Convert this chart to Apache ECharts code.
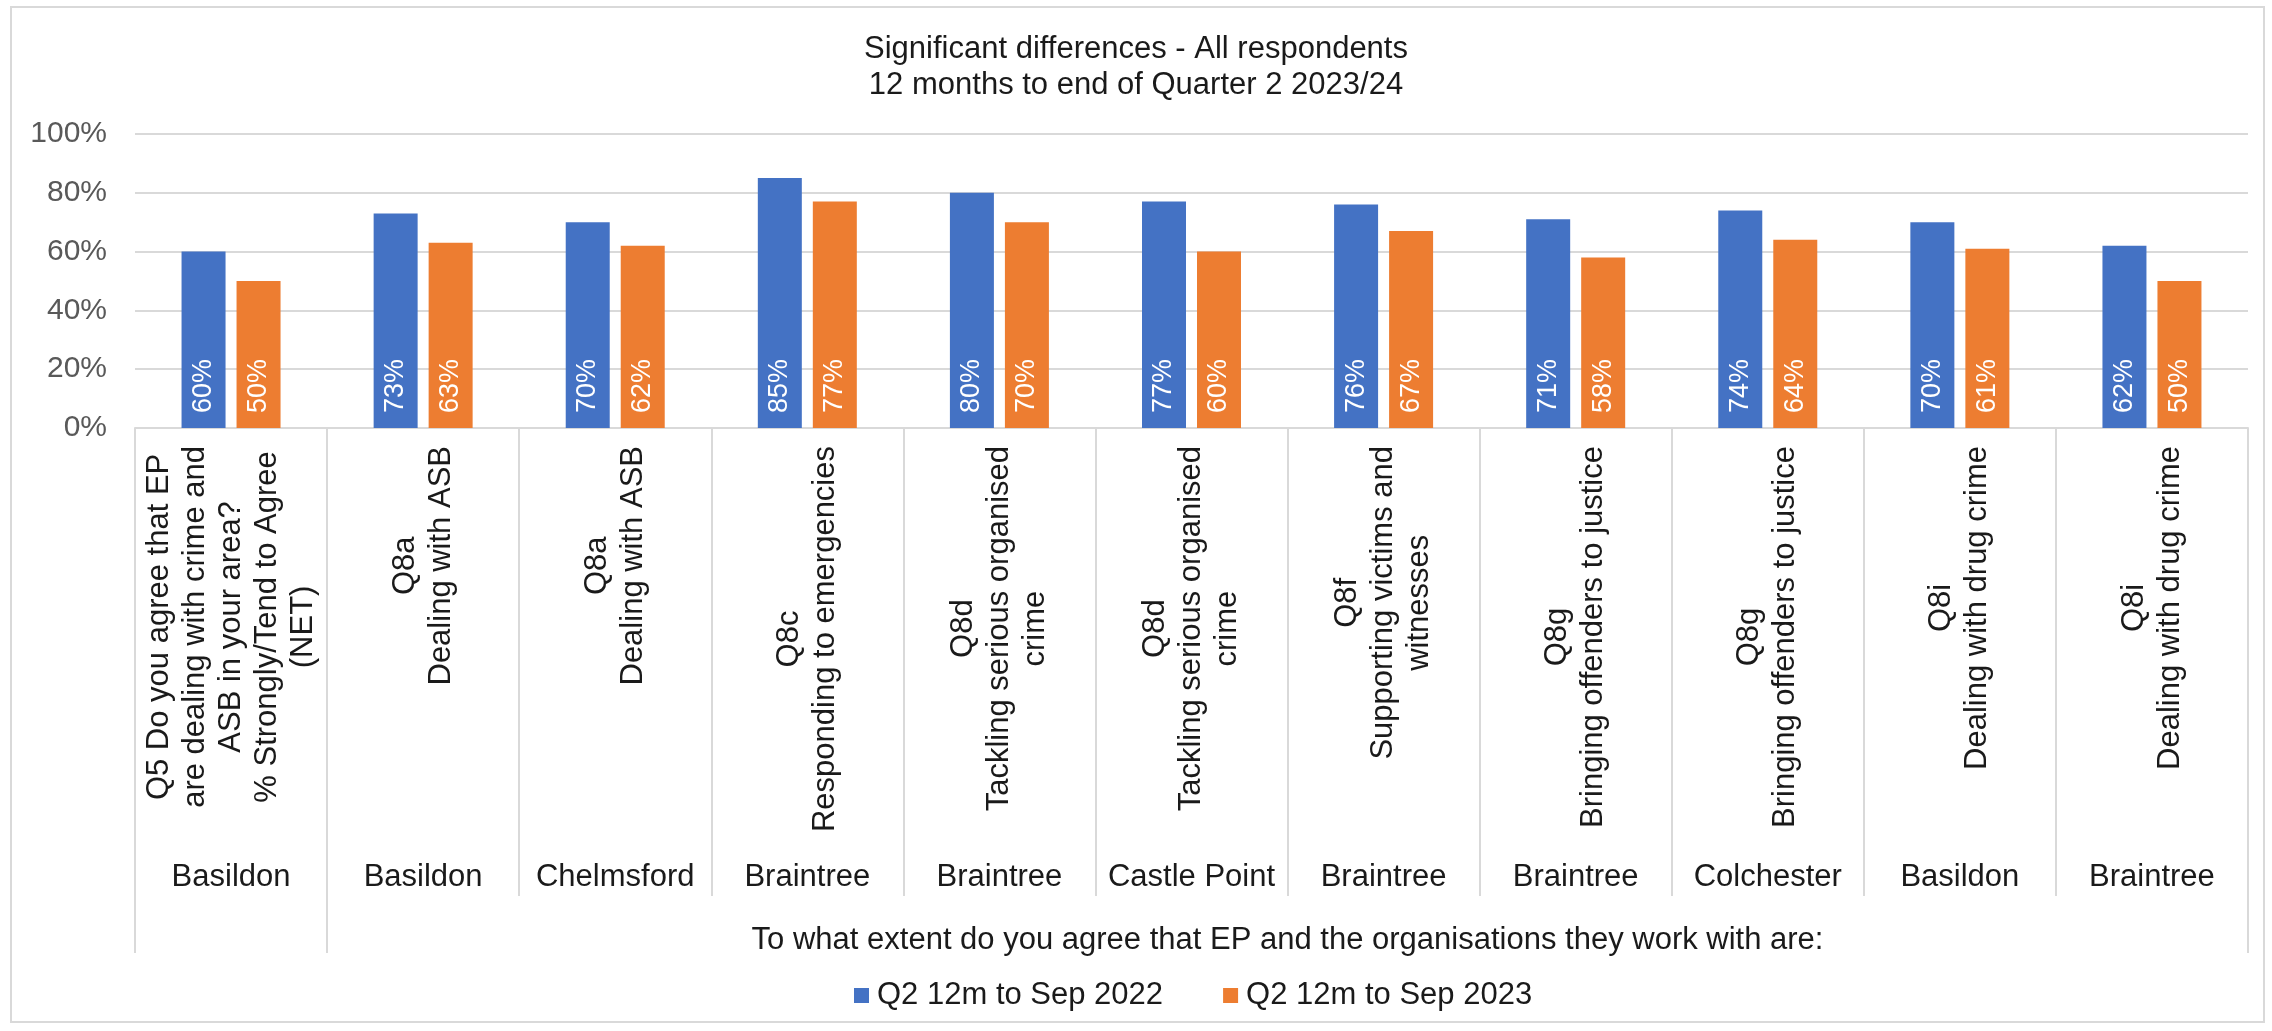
<!DOCTYPE html>
<html>
<head>
<meta charset="utf-8">
<title>Significant differences - All respondents</title>
<script src="https://cdn.jsdelivr.net/npm/echarts@6/dist/echarts.min.js"></script>
<style>
  html, body { margin: 0; padding: 0; background: #ffffff; }
  #chart { width: 2272px; height: 1031px; }
</style>
</head>
<body>
<div id="chart"></div>
<script>
// Question text per category (one entry per line of the rotated label)
const questionLabels = [
  ['Q5 Do you agree that EP', 'are dealing with crime and', 'ASB in your area?', '% Strongly/Tend to Agree', '(NET)'],
  ['Q8a', 'Dealing with ASB'],
  ['Q8a', 'Dealing with ASB'],
  ['Q8c', 'Responding to emergencies'],
  ['Q8d', 'Tackling serious organised', 'crime'],
  ['Q8d', 'Tackling serious organised', 'crime'],
  ['Q8f', 'Supporting victims and', 'witnesses'],
  ['Q8g', 'Bringing offenders to justice'],
  ['Q8g', 'Bringing offenders to justice'],
  ['Q8i', 'Dealing with drug crime'],
  ['Q8i', 'Dealing with drug crime']
];

// District for each category
const districts = [
  'Basildon', 'Basildon', 'Chelmsford', 'Braintree', 'Braintree', 'Castle Point',
  'Braintree', 'Braintree', 'Colchester', 'Basildon', 'Braintree'
];

// Outer grouping of the categories
const groupNames = ['', 'To what extent do you agree that EP and the organisations they work with are:'];
const groupSizes = [1, 10];

// Series
const seriesNames = ['Q2 12m to Sep 2022', 'Q2 12m to Sep 2023'];
const values2022 = [60, 73, 70, 85, 80, 77, 76, 71, 74, 70, 62];
const values2023 = [50, 63, 62, 77, 70, 60, 67, 58, 64, 61, 50];

// Value axis
const yMin = 0;
const yMax = 100;
const yStep = 20;

const FONT = '"Liberation Sans", Arial, sans-serif';
const GRID_COLOR = '#d9d9d9';
const colors = ['#4472C4', '#ED7D31'];

// Bar geometry (pixels): width of each bar and gap between the pair
const BAR_W = 44;
const BAR_GAP = 11;
const LABEL_SIZE = 27;
const LABEL_PAD = 15;

// Group boundaries and group centres in category units
const groupEdges = [0];
groupSizes.forEach(n => groupEdges.push(groupEdges[groupEdges.length - 1] + n));
const groupCentres = groupSizes.map((n, i) => groupEdges[i] + n / 2);
const labelledGroups = groupCentres.filter((c, i) => groupNames[i] !== '');
const nCats = questionLabels.length;

const chart = echarts.init(document.getElementById('chart'), null, { renderer: 'canvas' });

function barSeries(name, data, color) {
  return {
    name: name,
    type: 'bar',
    xAxisIndex: 0,
    yAxisIndex: 0,
    data: data,
    barWidth: BAR_W,
    barGap: (BAR_GAP / BAR_W * 100) + '%',
    itemStyle: { color: color },
    label: { show: false }
  };
}

// Vertical white value labels sitting at the foot of each bar
function valueLabels(data, side) {
  const dx = side * (BAR_W + BAR_GAP) / 2;
  return {
    type: 'custom',
    coordinateSystem: 'cartesian2d',
    xAxisIndex: 0,
    yAxisIndex: 0,
    silent: true,
    z: 5,
    data: data.map((v, i) => [i, v]),
    renderItem: (params, api) => {
      const base = api.coord([api.value(0), 0]);
      return {
        type: 'text',
        x: base[0] + dx,
        y: base[1] - LABEL_PAD,
        rotation: Math.PI / 2,
        style: {
          text: api.value(1) + '%',
          fill: '#ffffff',
          fontSize: LABEL_SIZE,
          fontFamily: FONT,
          align: 'left',
          verticalAlign: 'middle'
        }
      };
    }
  };
}

const option = {
  backgroundColor: '#ffffff',
  animation: false,
  textStyle: { fontFamily: FONT },
  title: {
    text: 'Significant differences - All respondents\n12 months to end of Quarter 2 2023/24',
    left: 'center',
    top: 31,
    padding: 0,
    textStyle: {
      fontSize: 31,
      fontWeight: 'normal',
      color: '#1a1a1a',
      lineHeight: 36,
      fontFamily: FONT
    }
  },
  legend: {
    data: seriesNames,
    left: 854,
    top: 980,
    padding: 0,
    itemWidth: 15,
    itemHeight: 15,
    itemGap: 60,
    icon: 'rect',
    textStyle: {
      fontSize: 31,
      color: '#1a1a1a',
      fontFamily: FONT,
      lineHeight: 31,
      padding: [0, 0, 0, 3]
    }
  },
  graphic: [{
    type: 'rect',
    silent: true,
    shape: { x: 11, y: 7, width: 2253, height: 1015 },
    style: { fill: 'none', stroke: GRID_COLOR, lineWidth: 2 }
  }],
  grid: {
    left: 135,
    right: 24,
    top: 134,
    height: 294,
    containLabel: false,
    outerBoundsMode: 'none'
  },
  xAxis: [
    {
      // question labels + short category separators
      type: 'category',
      position: 'bottom',
      data: questionLabels.map(l => l.join('\n')),
      axisLine: { show: true, lineStyle: { color: GRID_COLOR, width: 2 } },
      axisTick: { show: true, interval: 0, length: 468, lineStyle: { color: GRID_COLOR, width: 2 } },
      axisLabel: {
        interval: 0,
        rotate: 90,
        margin: 18,
        formatter: v => v.split('\n').map(s => '{c|' + s + '}').join('\n'),
        rich: {
          c: { align: 'center', fontSize: 31, lineHeight: 36, color: '#1a1a1a', fontFamily: FONT }
        }
      },
      splitLine: { show: false }
    },
    {
      // district names
      type: 'category',
      position: 'bottom',
      data: districts,
      axisLine: { show: false },
      axisTick: { show: false },
      axisLabel: { interval: 0, margin: 434, fontSize: 31, color: '#1a1a1a', fontFamily: FONT },
      splitLine: { show: false }
    },
    {
      // outer grouping: long separators and group titles
      type: 'value',
      position: 'bottom',
      min: 0,
      max: nCats,
      axisLine: { show: false },
      axisTick: { show: true, customValues: groupEdges, length: 525, lineStyle: { color: GRID_COLOR, width: 2 } },
      axisLabel: {
        customValues: labelledGroups,
        margin: 497,
        fontSize: 31,
        color: '#1a1a1a',
        fontFamily: FONT,
        formatter: v => {
          const i = groupCentres.findIndex(c => Math.abs(c - v) < 1e-6);
          return i >= 0 ? groupNames[i] : '';
        }
      },
      splitLine: { show: false }
    }
  ],
  yAxis: {
    type: 'value',
    min: yMin,
    max: yMax,
    interval: yStep,
    axisLine: { show: false },
    axisTick: { show: false },
    axisLabel: { formatter: '{value}%', fontSize: 30, color: '#595959', margin: 28, fontFamily: FONT },
    splitLine: { show: true, lineStyle: { color: GRID_COLOR, width: 2 } }
  },
  series: [
    barSeries(seriesNames[0], values2022, colors[0]),
    barSeries(seriesNames[1], values2023, colors[1]),
    valueLabels(values2022, -1),
    valueLabels(values2023, 1)
  ]
};

chart.setOption(option);
</script>
</body>
</html>
